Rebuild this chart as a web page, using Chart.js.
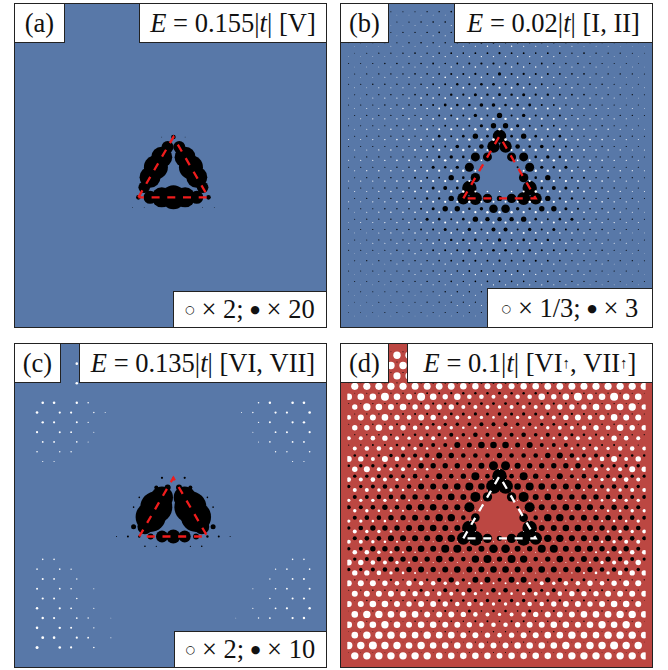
<!DOCTYPE html>
<html><head><meta charset="utf-8">
<script src="https://cdn.jsdelivr.net/npm/chart.js@4"></script>
<style>
html,body{margin:0;padding:0;background:#fff;width:668px;height:670px;overflow:hidden}
.p{position:absolute}
.p canvas{position:absolute;left:0;top:0}
.f{position:absolute;border:1.4px solid #222;box-sizing:border-box;pointer-events:none}
.t{position:absolute;background:#fff;border:1.4px solid #222;box-sizing:border-box;display:flex;align-items:center;justify-content:center;
font-family:"Liberation Serif",serif;font-size:26.5px;color:#111;white-space:nowrap}
.t i{font-style:italic}
.t sub{font-size:15px;line-height:0}
.s{font-family:"DejaVu Sans";font-size:11px}
</style></head><body>
<script>
// lattice limits of every panel (column units, row units)
const colMin=-12.62,colMax=12.12,rowMin=-0.14,rowMax=29.8;
// bond triangle
const triCols=[-3,0,3,-3];
const triRows=[18,12,18,18];

// panel (a): rows, columns in each row, dot sizes (tenths)
const aRows=[12,13,14,15,16,17,18,19];
const aCols=[[-1,0,1],[-.5,.5],[-1,1],[-1.5,1.5],[-2,2],[-2.5,2.5],[-3,-2,-1,0,1,2,3],[-3.5,-2.5,2.5,3.5]];
const aSizes=[[4,23,4],[60,60],[105,105],[120,120],[105,105],[58,58],[23,65,100,120,100,65,23],[4,4,4,4]];

// panel (c): black
const cRows=[12,13,14,15,16,17,18,19];
const cCols=[[-1,0,1],[-1.5,-.5,.5,1.5],[-3,-1,1,3],[-3.5,-1.5,1.5,3.5],[-2,2],[-3.5,-2.5,2.5,3.5],[-5,-4,-3,-2,-1,0,1,2,3,4,5],[-2.5,-1.5,1.5,2.5]];
const cSizes=[[11,8,11],[20,30,30,20],[8,110,110,8],[8,160,160,8],[150,150],[25,75,75,25],[5,10,12,30,60,70,60,30,12,10,5],[8,6,6,8]];
// panel (c): white
const cwRows=[0,2,4,5,6,7,8,9,10,20,21,22,23,24,25,26,27,28,29];
const cwCols=[[-8.5],[-8.5],
[-11.5,-10.5,-8.5,-7.5,7.5,8.5,10.5,11.5],
[-12,-10,-9,-7,-6,6,7,9,10,12],
[-11.5,-10.5,-8.5,-7.5,7.5,8.5,10.5,11.5],
[-12,-10,-9,-7,7,9,10,12],
[-11.5,-10.5,-8.5,-7.5,7.5,8.5,10.5,11.5],
[-12,-10,-9,9,10,12],
[-11.5,-10.5,10.5,11.5],
[-11.5,-10.5,10.5,11.5],
[-12,-10,-9,9,10,12],
[-11.5,-10.5,-8.5,8.5,10.5,11.5],
[-12,-10,-9,-7,7,9,10,12],
[-11.5,-10.5,-8.5,8.5,10.5,11.5],
[-12,-10,-9,-7,7,9,10,12],
[-11.5,-10.5,-8.5,-7.5,-5.5,5.5,7.5,8.5,10.5,11.5],
[-12,-10,-9,-7],
[-11.5,-10.5,-8.5,-7.5,-5.5],
[-12,-10,-9,-7]];
const cwSizes=[[13],[13],
[13,13,12,8,8,12,13,13],
[13,11,11,7,5,5,7,11,11,13],
[12,11,10,7,7,10,11,12],
[11,10,9,5,5,9,10,11],
[9,9,8,5,5,8,9,9],
[8,7,7,7,7,8],
[6,6,6,6],
[8,8,8,8],
[8,8,7,7,8,8],
[10,9,7,7,9,10],
[10,9,8,5,5,8,9,10],
[11,10,8,8,10,11],
[12,11,9,6,6,9,11,12],
[12,11,9,7,4,4,7,9,11,12],
[13,12,10,7],
[14,13,11,9,5],
[15,13,11,8]];

// panel (b): black dots, row by row (tenths)
const bBlack=[
[3,4,4,5,5,5,6,7,8,8,8,7,9,7,8,8,8,7,6,5,5,5,4,4,3],
[3,4,5,5,5,6,7,8,8,8,7,8,8,7,8,8,8,7,6,5,5,5,4,3,3],
[3,4,5,5,6,6,7,8,7,6,8,8,10,8,8,6,7,8,7,6,6,5,5,4,3],
[4,5,5,6,6,7,8,7,7,8,8,9,9,8,8,7,7,8,7,6,6,5,5,4,4],
[4,5,6,6,7,8,7,8,9,8,9,9,11,9,9,8,9,8,7,8,7,6,6,5,4],
[5,5,6,7,8,7,8,9,8,9,10,11,11,10,9,8,9,8,7,8,7,6,5,5,4],
[5,6,7,7,7,8,8,9,10,10,11,10,16,10,11,10,10,9,8,8,7,7,7,6,5],
[5,6,7,7,7,8,8,9,10,12,11,13,13,11,12,10,9,8,8,7,7,7,6,5,5],
[5,6,6,7,7,8,9,9,12,11,15,12,14,12,15,11,12,9,9,8,7,7,6,6,5],
[5,6,6,7,7,8,9,10,14,13,13,18,18,13,13,14,10,9,8,7,7,6,6,5,5],
[5,6,6,6,7,6,7,10,10,10,17,10,27,10,17,10,10,10,7,6,7,6,6,6,5],
[5,5,6,6,7,6,7,7,9,10,10,16,27,27,16,10,10,9,7,7,6,7,6,6,5],
[5,6,6,6,7,6,7,13,10,13,27,13,67,13,27,13,10,13,7,6,7,6,6,6,5],
[5,5,6,6,7,6,7,10,10,18,13,23,62,62,23,13,18,10,10,7,6,7,6,6,5],
[5,6,6,6,7,7,8,13,17,13,45,45,0,45,45,13,17,13,8,7,7,6,6,6,5],
[5,6,6,6,7,7,8,15,12,16,45,10,0,0,10,45,16,12,15,8,7,7,6,6,6],
[5,6,6,7,7,10,10,9,27,13,47,0,0,0,47,13,27,9,10,10,7,7,6,6,5],
[5,6,6,7,7,8,9,15,20,14,72,0,0,0,0,72,14,20,15,9,8,7,7,6,6],
[5,6,6,7,7,8,12,12,27,60,65,47,27,47,65,60,27,12,12,8,7,7,6,6,5],
[5,6,6,7,7,8,10,15,27,27,13,17,43,43,17,13,27,27,15,10,8,7,7,6,6],
[5,6,6,7,7,8,15,13,10,13,27,22,22,22,27,13,10,13,15,8,7,7,6,6,5],
[5,5,6,6,7,8,9,10,15,10,17,10,20,20,10,17,10,15,10,9,8,7,6,6,5],
[5,5,6,6,7,7,8,9,12,12,13,10,16,10,13,12,12,9,8,7,7,6,6,5,5],
[5,6,6,6,7,7,8,9,10,10,12,10,13,13,10,12,10,10,9,8,7,7,6,6,6],
[5,6,6,6,7,7,7,8,9,10,10,9,11,9,10,10,9,8,7,7,7,6,6,6,5],
[5,5,6,6,6,7,7,7,8,8,9,9,9,9,9,8,8,8,7,7,7,6,6,6,5],
[5,5,5,6,6,6,7,7,8,7,8,8,8,8,8,7,8,7,7,6,6,6,5,5,5],
[4,5,5,5,6,6,6,6,7,7,7,7,7,7,7,7,7,6,6,6,6,5,5,5,5],
[4,4,5,5,5,5,6,6,6,6,6,6,7,6,6,6,6,6,6,5,5,5,5,4,4],
[4,4,4,5,5,5,5,5,6,6,6,6,6,6,6,6,6,5,5,5,5,5,4,4,4]];

// panel (b): white dots
const bWhite=[
[3,3,3,3,3,3,4,4,4,4,5,5,5,5,5,4,4,4,4,3,3,3,3,3,3],
[3,3,3,3,3,4,4,4,5,5,5,5,5,5,5,5,4,4,4,4,3,3,3,3,3],
[3,3,3,3,4,4,4,5,5,6,6,6,6,6,6,6,5,5,4,4,4,3,3,3,3],
[3,3,3,4,4,4,5,5,6,6,6,7,7,7,6,6,6,5,5,4,4,4,3,3,3],
[3,3,4,4,4,5,5,6,6,7,7,7,7,7,7,7,6,6,5,5,4,4,4,3,3],
[3,4,4,4,5,5,6,6,7,7,8,8,8,8,8,7,7,6,6,5,5,4,4,4,3],
[3,4,4,5,5,6,6,7,8,8,8,8,8,8,8,8,8,7,6,6,5,5,4,4,3],
[4,4,5,5,6,6,7,8,8,9,9,9,10,9,9,9,8,8,7,6,6,5,5,4,4],
[4,4,5,6,6,7,8,8,9,10,10,10,10,10,10,10,9,8,8,7,6,6,5,4,4],
[4,5,5,6,7,7,8,9,10,10,11,11,11,11,11,10,10,9,8,7,7,6,5,5,4],
[4,5,6,6,7,8,9,9,10,11,11,12,12,12,11,11,10,9,9,8,7,6,6,5,4],
[4,5,6,7,7,8,9,10,11,11,12,12,12,12,12,11,11,10,9,8,7,7,6,5,4],
[5,5,6,7,8,9,9,10,11,11,12,12,13,13,12,12,11,11,10,9,9,8,7,6,5],
[5,5,6,7,8,9,10,11,11,12,12,10,0,10,12,12,11,11,10,9,8,7,6,5,5],
[5,6,6,7,8,9,10,11,12,12,10,8,0,0,8,10,12,12,11,10,9,8,7,6,6],
[5,6,7,7,8,9,10,11,12,12,10,0,0,0,10,12,12,11,10,9,8,7,7,6,5],
[5,6,6,7,8,9,10,11,11,12,10,0,0,0,0,10,12,11,11,10,9,8,7,6,6],
[5,5,6,7,8,9,10,10,11,12,10,8,6,8,10,12,11,10,10,9,8,7,6,5,5],
[5,5,6,7,8,8,9,10,11,11,12,10,10,10,10,12,11,11,10,9,8,8,7,6,5],
[4,5,6,7,7,8,9,10,10,11,11,12,12,12,11,11,10,10,9,8,7,7,6,5,4],
[4,5,5,6,7,8,8,9,10,10,11,11,11,11,11,11,10,10,9,8,8,7,6,5,5],
[4,4,5,6,6,7,8,8,9,9,10,10,10,10,10,9,9,8,8,7,6,6,5,4,4],
[4,4,5,5,6,6,7,8,8,9,9,9,9,9,9,9,9,8,8,7,6,6,5,5,4],
[3,4,4,5,5,6,6,7,7,8,8,8,8,8,8,8,7,7,6,6,5,5,4,4,3],
[3,4,4,4,5,5,6,6,7,7,7,7,7,7,7,7,7,7,6,6,5,5,4,4,4],
[3,3,4,4,4,5,5,6,6,6,7,7,7,7,7,6,6,6,5,5,4,4,4,3,3],
[3,3,3,4,4,4,5,5,5,6,6,6,6,6,6,6,6,5,5,5,4,4,4,3,3],
[3,3,3,3,4,4,4,5,5,5,5,5,5,5,5,5,5,4,4,4,4,3,3,3,3],
[3,3,3,3,3,4,4,4,4,5,5,5,5,5,5,5,4,4,4,4,3,3,3,3,3],
[3,3,3,3,3,3,4,4,4,4,4,4,4,4,4,4,4,4,4,3,3,3,3,3,3]];

// panel (d): black dots
const dBlack=[
[3,3,4,4,5,5,6,6,7,7,7,8,8,8,7,7,7,6,6,5,5,4,4,3,3],
[3,4,4,5,5,6,6,7,7,8,8,9,9,9,9,8,8,7,7,6,6,5,5,4,4],
[4,4,5,5,6,6,7,8,8,9,10,10,10,10,10,9,8,8,7,6,6,5,5,4,4],
[4,5,5,6,6,7,8,9,9,10,11,11,11,11,11,10,9,9,8,7,6,6,5,5,4],
[4,5,6,6,7,8,9,10,11,12,12,12,14,12,12,12,11,10,9,8,7,6,6,5,4],
[5,5,6,7,8,9,10,11,12,13,14,14,14,14,14,13,12,11,10,9,8,7,6,5,5],
[5,6,7,8,9,10,11,13,14,15,16,15,18,15,16,15,14,13,11,10,9,8,7,6,5],
[5,6,7,8,10,11,13,14,16,17,18,20,20,20,18,17,16,14,13,11,10,8,7,6,5],
[6,7,8,10,11,13,15,16,20,18,23,20,24,20,23,18,20,16,15,13,11,10,8,7,6],
[6,8,10,10,13,15,20,20,20,30,25,33,33,33,25,30,20,20,20,15,13,10,10,8,6],
[13,13,13,17,20,20,23,30,27,23,23,23,27,23,23,23,27,30,23,20,20,17,13,13,13],
[13,17,17,17,17,20,27,27,27,27,27,30,45,45,30,27,27,27,27,27,20,17,17,17,17],
[17,17,20,20,20,23,20,30,23,27,40,23,73,23,40,27,23,30,20,23,20,20,20,17,17],
[17,17,20,23,20,23,30,30,30,33,40,33,73,73,33,40,33,30,30,30,23,20,23,20,17],
[20,20,23,23,27,27,27,30,33,30,50,47,0,47,50,30,33,30,27,27,27,23,23,20,20],
[20,20,23,27,23,30,33,33,30,30,50,13,0,0,13,50,30,30,33,33,30,23,27,23,20],
[20,23,23,27,27,30,27,37,37,23,43,0,0,0,43,23,37,37,27,30,27,27,23,23,20],
[17,23,27,27,27,30,33,33,30,30,73,0,0,0,0,73,30,30,33,33,30,27,27,27,23],
[20,23,23,30,30,30,30,37,37,63,73,47,27,47,73,63,37,37,30,30,30,30,23,23,20],
[17,20,27,27,27,30,33,30,40,40,27,30,43,43,30,27,40,40,30,33,30,27,27,27,20],
[17,20,23,27,27,30,27,33,27,23,37,40,27,40,37,23,27,33,27,30,27,27,23,20,17],
[17,17,20,23,23,27,30,27,30,33,30,30,33,33,30,30,33,30,27,30,27,23,23,20,17],
[7,7,8,12,8,15,13,22,27,17,30,30,20,30,30,17,27,22,13,15,8,12,8,7,7],
[5,6,8,7,10,10,15,10,20,15,23,13,23,23,13,23,15,20,10,15,10,10,7,8,6],
[4,7,5,8,7,10,8,13,12,13,17,17,15,17,17,13,12,13,8,10,7,8,5,7,4],
[3,4,6,4,7,5,8,7,10,8,15,8,13,13,8,15,8,10,7,8,5,7,4,6,4],
[3,5,3,5,4,7,5,7,8,7,10,10,8,10,10,7,8,7,5,7,4,5,3,5,3],
[3,3,4,3,4,3,5,4,7,5,8,5,7,7,5,8,5,7,4,5,3,4,3,4,3],
[3,3,3,3,3,4,3,4,5,4,6,6,5,6,6,4,5,4,3,4,3,3,3,3,3],
[3,3,3,3,3,3,3,3,4,3,5,3,5,5,3,5,3,4,3,3,3,3,3,3,3]];

// panel (d): white dots
const dWhite=[
[37,37,37,37,37,37,36,36,36,35,34,33,32,32,33,34,35,36,36,36,37,37,37,37,37],
[37,37,37,37,37,36,36,36,35,35,34,37,37,37,34,35,35,36,36,36,37,37,37,37,37],
[37,37,37,37,36,36,36,35,35,34,33,32,30,30,32,33,34,35,35,36,36,36,37,37,37],
[36,36,36,36,36,35,35,34,34,33,32,30,28,30,32,33,34,34,35,35,36,36,36,36,36],
[33,33,33,40,33,30,40,33,27,33,23,23,20,20,23,23,33,27,33,40,30,33,40,33,33],
[27,37,33,30,33,27,27,27,27,20,20,20,17,20,20,20,27,27,27,27,33,30,33,37,27],
[23,30,30,33,27,23,30,27,20,20,17,17,13,13,17,17,20,20,27,30,23,27,33,30,30],
[27,27,33,23,27,23,20,20,17,13,13,10,10,10,13,13,17,20,20,23,27,23,33,27,27],
[20,20,23,27,20,17,20,20,13,13,10,10,10,10,10,10,13,13,20,20,17,20,27,23,20],
[20,23,23,17,20,17,13,10,10,7,7,7,7,7,7,7,10,10,13,17,20,17,23,23,20],
[30,27,20,30,23,17,17,10,7,7,7,5,5,5,5,7,7,7,10,17,17,23,30,20,27],
[27,30,20,17,20,13,13,7,7,7,7,7,7,7,7,7,7,7,13,13,20,17,20,30,27],
[23,20,23,20,17,13,10,7,7,7,7,5,5,5,5,7,7,7,7,10,13,17,20,23,20],
[20,20,17,17,13,10,7,7,7,5,5,5,0,5,5,5,7,7,7,10,13,17,17,20,20],
[17,17,17,17,13,10,7,7,5,5,5,5,0,0,5,5,5,5,7,7,10,13,17,17,17],
[17,17,13,13,10,7,7,5,5,5,5,0,0,0,5,5,5,5,7,7,10,13,13,17,17],
[17,17,13,13,10,7,5,5,5,5,5,0,0,0,0,5,5,5,5,5,7,10,13,13,17],
[20,17,17,13,7,5,5,5,5,5,5,3,3,3,5,5,5,5,5,5,7,13,17,17,20],
[20,20,17,13,10,7,5,5,5,5,5,5,5,5,5,5,5,5,5,7,10,13,17,20,20],
[23,23,17,13,10,7,5,5,5,5,5,5,5,5,5,5,5,5,5,7,10,13,17,23,23],
[30,27,23,20,17,10,7,5,5,5,5,5,5,5,5,5,5,5,5,7,10,17,20,23,27],
[27,27,23,17,13,10,7,7,5,5,7,7,7,7,7,5,5,7,7,10,13,17,23,27,27],
[30,30,30,27,23,27,23,23,17,20,13,13,10,10,13,13,20,17,23,23,27,23,27,30,30],
[30,30,30,30,27,27,27,23,20,20,17,13,13,13,17,20,20,23,27,27,27,30,30,30,30],
[30,30,33,33,30,27,30,30,27,23,23,20,17,17,20,23,23,27,30,30,27,30,33,33,30],
[33,37,37,33,33,33,30,30,30,27,23,20,17,20,23,27,30,30,30,33,33,33,37,37,33],
[33,37,33,37,33,30,33,33,30,30,27,23,23,23,27,30,30,33,33,30,33,37,33,37,33],
[33,37,37,37,33,33,37,33,33,30,30,27,23,27,30,30,33,33,37,33,33,37,37,37,33],
[37,37,40,37,37,33,37,33,33,33,33,30,30,30,33,33,33,33,37,33,37,37,40,37,37],
[37,37,37,37,37,37,37,33,33,33,33,33,30,33,33,33,33,33,37,37,37,37,37,37,37]];

// --- building the point lists for the library ---
function sparse(rows,cols,sizes,dy){
  const out=[];
  rows.forEach((row,i)=>cols[i].forEach((c,j)=>out.push({x:c,y:row+dy,r:sizes[i][j]/10})));
  return out;
}
function grid(table,white){
  const out=[];
  table.forEach((vals,k)=>{
    const half=white?(k%2===0):(k%2===1);
    vals.forEach((v,i)=>{
      if(v>0) out.push({x:i-12-(half?0.5:0),y:k+(white?1/3:0),r:v/10});
    });
  });
  return out;
}
const triangle=triCols.map((c,i)=>({x:c,y:triRows[i]}));

function panel(left,top,w,h,bg,lineCol,black,white){
  const box=document.createElement('div');
  box.className='p';
  box.style.cssText=`left:${left}px;top:${top}px;width:${w}px;height:${h}px;background:${bg}`;
  const cv=document.createElement('canvas');
  cv.width=w;cv.height=h;cv.style.width=w+'px';cv.style.height=h+'px';
  box.appendChild(cv);
  document.body.appendChild(box);
  new Chart(cv,{
    type:'bubble',
    data:{datasets:[
      {type:'line',data:triangle,borderColor:lineCol,borderWidth:2.3,borderDash:[8,7.7],pointRadius:0,fill:false,tension:0,borderCapStyle:'butt'},
      {data:white,backgroundColor:'#fff',borderWidth:0,hoverRadius:0},
      {data:black,backgroundColor:'#000',borderWidth:0,hoverRadius:0}
    ]},
    options:{
      responsive:false,animation:false,events:[],
      layout:{padding:0},
      plugins:{legend:{display:false},tooltip:{enabled:false},title:{display:false}},
      scales:{
        x:{type:'linear',display:false,min:colMin,max:colMax},
        y:{type:'linear',display:false,min:rowMin,max:rowMax,reverse:true}
      }
    }
  });
  const f=document.createElement('div');
  f.className='f';
  f.style.cssText=`left:${left}px;top:${top}px;width:${w}px;height:${h}px`;
  document.body.appendChild(f);
}
function label(l,t,r,b,html,size){
  const d=document.createElement('div');
  d.className='t';
  d.style.cssText=`left:${l}px;top:${t}px;width:${r-l}px;height:${b-t}px`+(size?`;font-size:${size}px`:'');
  d.innerHTML=html;
  document.body.appendChild(d);
}
const blue='#5878A8',red='#BC4742';
panel(14,3,313,325,blue,'#F01C1C',sparse(aRows,aCols,aSizes,0),[]);
panel(340,3,313,325,blue,'#F01C1C',grid(bBlack,false),grid(bWhite,true));
panel(14,343,313,325,blue,'#F01C1C',sparse(cRows,cCols,cSizes,0),sparse(cwRows,cwCols,cwSizes,1/3));
panel(340,343,313,325,red,'#FFFFFF',grid(dBlack,false),grid(dWhite,true));

const O='<span class="s">○</span>',B='<span class="s">●</span>';
label(14,3,65,43,'(a)');
label(139,3,327,43,'<i>E</i>&nbsp;=&nbsp;0.155|<i>t</i>|&nbsp;[V]');
label(173,291,327,328,O+'&nbsp;×&nbsp;2;&nbsp;'+B+'&nbsp;×&nbsp;20');
label(340,3,389,43,'(b)');
label(454,3,653,43,'<i>E</i>&nbsp;=&nbsp;0.02|<i>t</i>|&nbsp;[I,&nbsp;II]');
label(487,288,653,328,O+'&nbsp;×&nbsp;1/3;&nbsp;'+B+'&nbsp;×&nbsp;3');
label(14,343,61,383,'(c)');
label(79,343,327,383,'<i>E</i>&nbsp;=&nbsp;0.135|<i>t</i>|&nbsp;[VI,&nbsp;VII]');
label(174,631,327,668,O+'&nbsp;×&nbsp;2;&nbsp;'+B+'&nbsp;×&nbsp;10');
label(340,343,389,383,'(d)');
label(407,343,653,383,'<i>E</i>&nbsp;=&nbsp;0.1|<i>t</i>|&nbsp;[VI<sub>↑</sub>,&nbsp;VII<sub>↑</sub>]');
</script>
</body></html>
